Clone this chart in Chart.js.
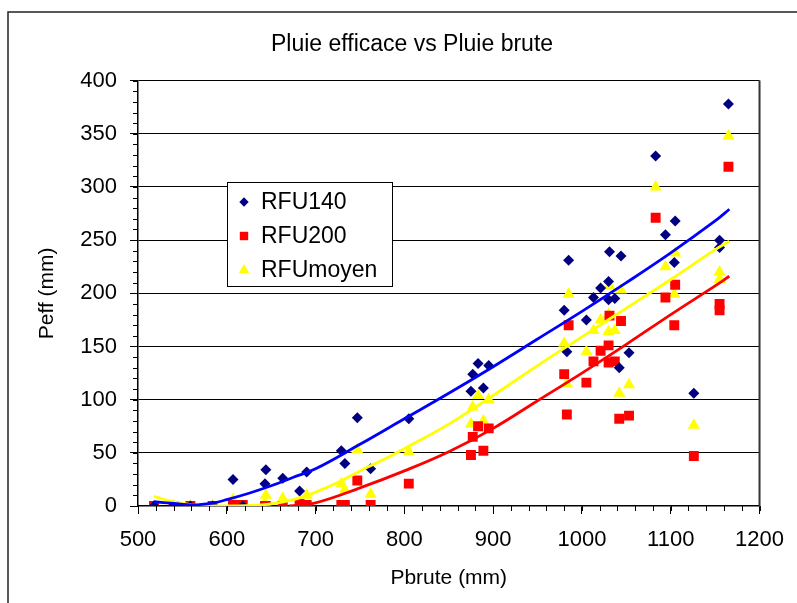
<!DOCTYPE html>
<html>
<head>
<meta charset="utf-8">
<script src="https://cdn.jsdelivr.net/npm/chart.js@4.4.1/dist/chart.umd.min.js"></script>
<style>
  body { margin: 0; background: #fff; }
</style>
</head>
<body>
<canvas id="chart" width="797" height="603"></canvas>
<script>
// observations : pluie brute (mm) and pluie efficace (mm) for each RFU
const pbrute   = [518, 540, 559, 584, 607, 618, 644, 643, 663, 682, 690, 729, 733, 747, 762, 805, 875, 877, 883, 889, 895, 980, 983, 985, 1005, 1013, 1021, 1030, 1031, 1030, 1037, 1044, 1042, 1053, 1083, 1094, 1105, 1104, 1126, 1155, 1155, 1165];
const rfu140   = [0, 0, 0, 0, 25, 0, 34, 21, 26, 14, 32, 52, 40, 83, 35, 82, 108, 124, 134, 111, 132, 184, 145, 231, 175, 196, 205, 211, 239, 194, 195, 235, 130, 144, 329, 255, 268, 229, 106, 250, 243, 378];
const rfu200   = [0, 0, 0, 0, 1, 1, 0, 0, 0, 2, 1, 1, 1, 24, 1, 21, 48, 65, 75, 52, 73, 124, 86, 170, 116, 136, 146, 151, 179, 135, 136, 174, 82, 85, 271, 196, 208, 170, 47, 190, 184, 319];
const rfuMoyen = [0, 0, 0, 0, 6, 0, 10, 3, 7, 4, 10, 21, 15, 53, 11, 51, 77, 93, 104, 80, 100, 153, 115, 199, 145, 165, 175, 180, 207, 164, 165, 203, 106, 114, 300, 225, 238, 199, 76, 220, 213, 348];

// trend curves (courbes de tendance)
const trend140X = [518, 540, 562, 585, 600, 625, 650, 675, 700, 750, 800, 850, 900, 950, 1000, 1050, 1100, 1150, 1166];
const trend140Y = [4, 2.5, 1, 3, 6, 12, 19, 27, 35, 58, 82, 106, 131, 157, 183, 210, 238, 268, 279];
const trendMoyX = [518, 540, 562, 585, 610, 630, 650, 675, 700, 725, 750, 775, 800, 850, 900, 950, 1000, 1050, 1100, 1150, 1166];
const trendMoyY = [9, 4, 1, 0, 0, 0.5, 2, 6, 13, 22, 33, 43, 54, 77, 104, 132, 159, 186, 213, 241, 249];
const trend200X = [670, 700, 750, 800, 850, 900, 950, 1000, 1050, 1100, 1150, 1166];
const trend200Y = [0, 3, 17, 33, 51, 73, 99, 125, 152, 180, 207, 216];

const seriesNames = ['RFU140', 'RFU200', 'RFUmoyen'];

function pts(xs, ys) {
  return xs.map((x, i) => ({ x: x, y: ys[i] }));
}

Chart.defaults.font.family = "'Liberation Sans', Arial, sans-serif";
Chart.defaults.color = '#000';

function trend(xs, ys, color) {
  return {
    data: pts(xs, ys),
    showLine: true,
    pointRadius: 0,
    pointHoverRadius: 0,
    borderColor: color,
    borderWidth: 2.8,
    tension: 0.4,
    fill: false,
    order: 0,
    inLegend: false
  };
}

// frame, minor ticks, plot border and the legend box
const decor = {
  id: 'decor',
  beforeDraw(chart) {
    const c = chart.ctx;
    c.save();
    c.fillStyle = '#fff';
    c.fillRect(0, 0, chart.width, chart.height);
    c.strokeStyle = '#222';
    c.lineWidth = 1.5;
    c.beginPath();
    c.moveTo(8, 603); c.lineTo(8, 12); c.lineTo(797, 12);
    c.stroke();
    c.restore();
  },
  afterDraw(chart) {
    const c = chart.ctx;
    const a = chart.chartArea;
    const x = chart.scales.x, y = chart.scales.y;
    c.save();
    c.strokeStyle = '#000';
    c.lineWidth = 1;
    c.beginPath();
    for (let v = 500; v <= 1200; v += 20) {
      const px = Math.round(x.getPixelForValue(v)) + 0.5;
      c.moveTo(px, a.bottom); c.lineTo(px, a.bottom + 5);
    }
    for (let v = 0; v <= 400; v += 10) {
      const py = Math.round(y.getPixelForValue(v)) + 0.5;
      c.moveTo(a.left - 5, py); c.lineTo(a.left, py);
    }
    c.stroke();

    c.strokeStyle = '#333';
    c.lineWidth = 2;
    c.beginPath();
    c.moveTo(a.right, a.top); c.lineTo(a.right, a.bottom + 1);
    c.stroke();

    // legend
    const lx = 227, ly = 182, lw = 165, lh = 104;
    c.fillStyle = '#fff';
    c.fillRect(lx, ly, lw, lh);
    c.strokeStyle = '#000';
    c.lineWidth = 1;
    c.strokeRect(lx + 0.5, ly + 0.5, lw, lh);
    c.font = "23px 'Liberation Sans', Arial, sans-serif";
    c.textBaseline = 'middle';
    c.textAlign = 'left';
    const sets = chart.data.datasets.filter(d => d.inLegend);
    sets.forEach((ds, i) => {
      const yy = ly + 20 + i * 34;
      c.fillStyle = ds.backgroundColor;
      Chart.helpers.drawPoint(c, { pointStyle: ds.pointStyle, radius: ds.pointRadius * 0.85, borderWidth: 0, rotation: 0 }, 244, yy);
      c.fillStyle = '#000';
      c.fillText(ds.label, 261, yy + 1);
    });
    c.restore();
  }
};

new Chart(document.getElementById('chart'), {
  type: 'scatter',
  data: {
    datasets: [
      trend(trend140X, trend140Y, '#0000FF'),
      trend(trendMoyX, trendMoyY, '#FFFF00'),
      trend(trend200X, trend200Y, '#FF0000'),
      {
        label: seriesNames[0],
        data: pts(pbrute, rfu140),
        pointStyle: 'rectRot',
        pointRadius: 5.5,
        backgroundColor: '#000080',
        borderColor: '#000080',
        borderWidth: 0,
        order: 1,
        inLegend: true
      },
      {
        label: seriesNames[1],
        data: pts(pbrute, rfu200),
        pointStyle: 'rect',
        pointRadius: 7,
        backgroundColor: '#FF0000',
        borderColor: '#FF0000',
        borderWidth: 0,
        order: 1,
        inLegend: true
      },
      {
        label: seriesNames[2],
        data: pts(pbrute, rfuMoyen),
        pointStyle: 'triangle',
        pointRadius: 7,
        backgroundColor: '#FFFF00',
        borderColor: '#FFFF00',
        borderWidth: 0,
        order: 1,
        inLegend: true
      }
    ]
  },
  options: {
    responsive: false,
    animation: false,
    layout: { padding: { left: 63, right: 36, top: 0, bottom: 0 } },
    plugins: {
      legend: { display: false },
      tooltip: { enabled: false },
      title: {
        display: true,
        text: 'Pluie efficace vs Pluie brute',
        color: '#000',
        font: { size: 23, weight: 'normal' },
        padding: { top: 31, bottom: 22 }
      }
    },
    scales: {
      x: {
        type: 'linear',
        min: 500,
        max: 1200,
        ticks: { stepSize: 100, font: { size: 22 }, padding: 13, maxRotation: 0, callback: (v) => String(v) },
        grid: { drawOnChartArea: false, tickLength: 8, tickColor: '#000' },
        border: { color: '#000', width: 1.5 },
        title: { display: true, text: 'Pbrute (mm)', font: { size: 21 }, padding: { top: 0, bottom: 12 } },
        afterFit(s) { s.height = 97; }
      },
      y: {
        min: 0,
        max: 400,
        ticks: { stepSize: 50, font: { size: 22 }, padding: 13 },
        grid: {
          tickLength: 8,
          tickColor: '#000',
          color: (ctx) => (ctx.tick && ctx.tick.value === 0 ? 'rgba(0,0,0,0)' : '#000')
        },
        border: { color: '#000', width: 1.5 },
        title: { display: true, text: 'Peff (mm)', font: { size: 21 }, padding: { top: -28, bottom: 0 } },
        afterFit(s) { s.width = 75; }
      }
    }
  },
  plugins: [decor]
});
</script>
</body>
</html>
